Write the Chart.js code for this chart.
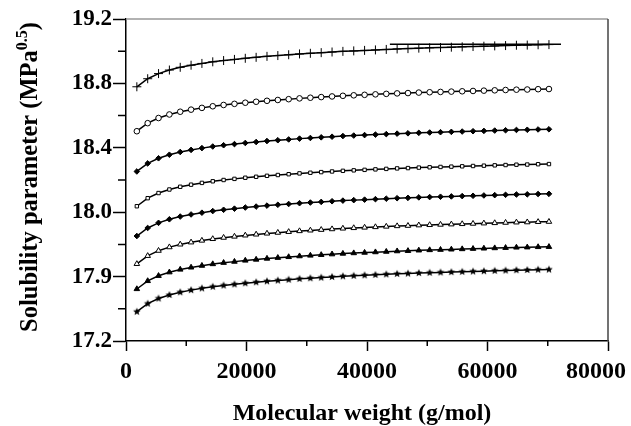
<!DOCTYPE html>
<html>
<head>
<meta charset="utf-8">
<title>Solubility parameter vs molecular weight</title>
<script src="https://cdn.jsdelivr.net/npm/chart.js"></script>
<style>
  html, body { margin: 0; padding: 0; background: #fff; }
  #wrap { width: 631px; height: 426px; }
</style>
</head>
<body>
<div id="wrap"><canvas id="chart" width="631" height="426"></canvas></div>
<script>
// molecular weight of each sample point (g/mol)
const molWeight = [1800, 3600, 5400, 7200, 9000, 10800, 12600, 14400, 16200, 18000,
  19800, 21600, 23400, 25200, 27000, 28800, 30600, 32400, 34200, 36000,
  37800, 39600, 41400, 43200, 45000, 46800, 48600, 50400, 52200, 54000,
  55800, 57600, 59400, 61200, 63000, 64800, 66600, 68400, 70200];

// solubility parameter curves, top to bottom (MPa^0.5)
const curvePlus = [18.779, 18.829, 18.861, 18.883, 18.900, 18.913, 18.924, 18.934, 18.942, 18.949,
  18.956, 18.962, 18.968, 18.973, 18.978, 18.983, 18.987, 18.991, 18.995, 18.999,
  19.002, 19.005, 19.008, 19.011, 19.014, 19.016, 19.019, 19.021, 19.023, 19.025,
  19.027, 19.029, 19.031, 19.033, 19.035, 19.037, 19.038, 19.040, 19.041];
const curveCircle = [18.503, 18.553, 18.585, 18.607, 18.624, 18.637, 18.648, 18.658, 18.666, 18.673,
  18.680, 18.686, 18.692, 18.697, 18.702, 18.707, 18.711, 18.715, 18.719, 18.723,
  18.726, 18.729, 18.732, 18.735, 18.738, 18.740, 18.743, 18.745, 18.747, 18.749,
  18.751, 18.753, 18.755, 18.757, 18.759, 18.761, 18.762, 18.764, 18.765];
const curveDiamond = [18.253, 18.303, 18.335, 18.357, 18.374, 18.387, 18.398, 18.408, 18.416, 18.423,
  18.430, 18.436, 18.442, 18.447, 18.452, 18.457, 18.461, 18.465, 18.469, 18.473,
  18.476, 18.479, 18.482, 18.485, 18.488, 18.490, 18.493, 18.495, 18.497, 18.499,
  18.501, 18.503, 18.505, 18.507, 18.509, 18.511, 18.512, 18.514, 18.515];
const curveSquare = [18.037, 18.087, 18.119, 18.141, 18.158, 18.171, 18.182, 18.192, 18.200, 18.207,
  18.214, 18.220, 18.226, 18.231, 18.236, 18.241, 18.245, 18.249, 18.253, 18.257,
  18.260, 18.263, 18.266, 18.269, 18.272, 18.274, 18.277, 18.279, 18.281, 18.283,
  18.285, 18.287, 18.289, 18.291, 18.293, 18.295, 18.296, 18.298, 18.299];
const curveSolidDiamond = [17.852, 17.902, 17.934, 17.956, 17.973, 17.986, 17.997, 18.007, 18.015, 18.022,
  18.029, 18.035, 18.041, 18.046, 18.051, 18.056, 18.060, 18.064, 18.068, 18.072,
  18.075, 18.078, 18.081, 18.084, 18.087, 18.089, 18.092, 18.094, 18.096, 18.098,
  18.100, 18.102, 18.104, 18.106, 18.108, 18.110, 18.111, 18.113, 18.114];
const curveTriangle = [17.679, 17.729, 17.761, 17.783, 17.800, 17.813, 17.824, 17.834, 17.842, 17.849,
  17.856, 17.862, 17.868, 17.873, 17.878, 17.883, 17.887, 17.891, 17.895, 17.899,
  17.902, 17.905, 17.908, 17.911, 17.914, 17.916, 17.919, 17.921, 17.923, 17.925,
  17.927, 17.929, 17.931, 17.933, 17.935, 17.937, 17.938, 17.940, 17.941];
const curveSolidTriangle = [17.523, 17.573, 17.605, 17.627, 17.644, 17.657, 17.668, 17.678, 17.686, 17.693,
  17.700, 17.706, 17.712, 17.717, 17.722, 17.727, 17.731, 17.735, 17.739, 17.743,
  17.746, 17.749, 17.752, 17.755, 17.758, 17.760, 17.763, 17.765, 17.767, 17.769,
  17.771, 17.773, 17.775, 17.777, 17.779, 17.781, 17.782, 17.784, 17.785];
const curveStar = [17.382, 17.432, 17.464, 17.486, 17.503, 17.516, 17.527, 17.537, 17.545, 17.552,
  17.559, 17.565, 17.571, 17.576, 17.581, 17.586, 17.590, 17.594, 17.598, 17.602,
  17.605, 17.608, 17.611, 17.614, 17.617, 17.619, 17.622, 17.624, 17.626, 17.628,
  17.630, 17.632, 17.634, 17.636, 17.638, 17.640, 17.641, 17.643, 17.644];

// plateau line drawn over the end of the top curve
const plateauX = [43800, 72200];
const plateauY = [19.043, 19.043];

// axis ticks and labels
const xTickValues = [0, 20000, 40000, 60000, 80000];
const xTickLabels = ['0', '20000', '40000', '60000', '80000'];
const xMinorTicks = [10000, 30000, 50000, 70000];
const yTickValues = [17.2, 17.6, 18.0, 18.4, 18.8, 19.2];
const yTickLabels = ['17.2', '17.9', '18.0', '18.4', '18.8', '19.2'];
const yMinorTicks = [17.4, 17.8, 18.2, 18.6, 19.0];

const serif = "'Liberation Serif', 'Times New Roman', serif";

// filled five point star used as a marker
function starMarker(r) {
  const c = document.createElement('canvas');
  const s = Math.ceil(r * 2 + 2);
  c.width = s; c.height = s;
  const g = c.getContext('2d');
  g.fillStyle = '#000';
  g.beginPath();
  for (let i = 0; i < 10; i++) {
    const a = -Math.PI / 2 + i * Math.PI / 5;
    const rr = i % 2 ? r * 0.45 : r;
    g.lineTo(s / 2 + rr * Math.cos(a), s / 2 + rr * Math.sin(a));
  }
  g.closePath();
  g.fill();
  return c;
}

const toPoints = (xs, ys) => xs.map((x, i) => ({ x: x, y: ys[i] }));

const curve = (values, style, radius, fill) => ({
  data: toPoints(molWeight, values),
  borderColor: '#000',
  borderWidth: 1.5,
  pointStyle: style,
  pointRadius: radius,
  pointBorderColor: '#000',
  pointBorderWidth: 1,
  pointBackgroundColor: fill,
  tension: 0
});

// little tick marks between labels, the grey/black frame and the axis titles
const decorations = {
  id: 'decorations',
  afterDraw(chart) {
    const { ctx, chartArea: a, scales: { x, y } } = chart;
    ctx.save();
    ctx.lineWidth = 1.5;

    ctx.strokeStyle = '#999';
    ctx.beginPath();
    ctx.moveTo(a.left, a.top); ctx.lineTo(a.right, a.top);
    ctx.stroke();
    ctx.strokeStyle = '#444';
    ctx.beginPath();
    ctx.moveTo(a.right, a.top); ctx.lineTo(a.right, a.bottom);
    ctx.stroke();

    ctx.strokeStyle = '#000';
    ctx.beginPath();
    xMinorTicks.forEach(v => {
      const px = x.getPixelForValue(v);
      ctx.moveTo(px, a.bottom); ctx.lineTo(px, a.bottom + 5);
    });
    yMinorTicks.forEach(v => {
      const py = y.getPixelForValue(v);
      ctx.moveTo(a.left - 8, py); ctx.lineTo(a.left, py);
    });
    ctx.stroke();

    ctx.fillStyle = '#000';
    ctx.textBaseline = 'alphabetic';

    // x title
    ctx.font = 'bold 24px ' + serif;
    ctx.textAlign = 'center';
    ctx.fillText('Molecular weight (g/mol)', (a.left + a.right) / 2 - 5, 420);

    // y title with superscript exponent
    const main = 'Solubility parameter (MPa';
    const sup = '0.5';
    const close = ')';
    const big = 'bold 24.5px ' + serif;
    const small = 'bold 16px ' + serif;
    ctx.font = big;
    const wMain = ctx.measureText(main).width;
    const wClose = ctx.measureText(close).width;
    ctx.font = small;
    const wSup = ctx.measureText(sup).width;
    const total = wMain + wSup + wClose;
    ctx.translate(37, 177);
    ctx.rotate(-Math.PI / 2);
    ctx.textAlign = 'left';
    let pos = -total / 2;
    ctx.font = big;
    ctx.fillText(main, pos, 0);
    pos += wMain;
    ctx.font = small;
    ctx.fillText(sup, pos, -10);
    pos += wSup;
    ctx.font = big;
    ctx.fillText(close, pos, 0);
    ctx.restore();
  }
};

new Chart(document.getElementById('chart'), {
  type: 'line',
  data: {
    datasets: [
      curve(curvePlus, 'cross', 4.5, '#000'),
      curve(curveCircle, 'circle', 2.8, '#fff'),
      curve(curveDiamond, 'rectRot', 2.8, '#000'),
      curve(curveSquare, 'rect', 2.4, '#fff'),
      curve(curveSolidDiamond, 'rectRot', 2.8, '#000'),
      curve(curveTriangle, 'triangle', 3.2, '#fff'),
      curve(curveSolidTriangle, 'triangle', 3.2, '#000'),
      curve(curveStar, starMarker(4), 4, '#000'),
      {
        data: toPoints(plateauX, plateauY),
        borderColor: '#000',
        borderWidth: 1.5,
        pointRadius: 0
      }
    ]
  },
  options: {
    responsive: false,
    animation: false,
    devicePixelRatio: 1,
    layout: { padding: { left: 0, right: 23, top: 19, bottom: 0 } },
    plugins: { legend: { display: false }, tooltip: { enabled: false } },
    scales: {
      x: {
        type: 'linear',
        min: 0,
        max: 80000,
        afterBuildTicks: s => { s.ticks = xTickValues.map(v => ({ value: v })); },
        afterFit: s => { s.height = 85; s.paddingLeft = 0; s.paddingRight = 0; },
        border: { color: '#000', width: 1.5 },
        grid: { drawOnChartArea: false, tickLength: 10, tickColor: '#000', tickWidth: 1.5 },
        ticks: {
          autoSkip: false,
          maxRotation: 0,
          padding: 6,
          color: '#000',
          font: { family: serif, size: 24, weight: 'bold' },
          // pad the last label so it stays inside the canvas
          callback: (v, i) => i === xTickLabels.length - 1 ? xTickLabels[i] + '    ' : xTickLabels[i]
        }
      },
      y: {
        type: 'linear',
        min: 17.2,
        max: 19.2,
        afterBuildTicks: s => { s.ticks = yTickValues.map(v => ({ value: v })); },
        afterFit: s => { s.width = 126; },
        border: { color: '#000', width: 1.5 },
        grid: { drawOnChartArea: false, tickLength: 13, tickColor: '#000', tickWidth: 1.5 },
        ticks: {
          autoSkip: false,
          padding: 1,
          color: '#000',
          font: { family: serif, size: 23, weight: 'bold' },
          callback: (v, i) => yTickLabels[i]
        }
      }
    }
  },
  plugins: [decorations]
});
</script>
</body>
</html>
